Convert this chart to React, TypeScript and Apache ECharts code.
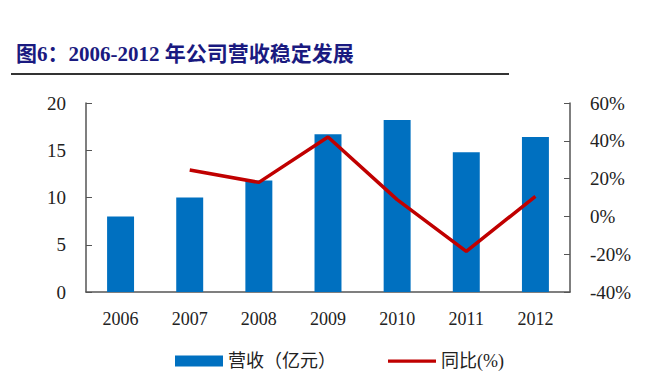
import React, { useEffect, useRef } from "react";
import * as echarts from "echarts";

const categories = ["2006", "2007", "2008", "2009", "2010", "2011", "2012"];
const revenue = [8.0, 10.0, 11.8, 16.7, 18.2, 14.8, 16.4];
const growth: (number | null)[] = [null, 24.6, 18.0, 42.0, 8.9, -18.5, 10.6];
const leftTicks = [0, 5, 10, 15, 20];
const rightTicks = [-40, -20, 0, 20, 40, 60];

const FONT = "'Liberation Serif', 'Times New Roman', 'Noto Sans CJK SC', serif";
const LINE_ICON = "path://M0 0 L0.01 0 L0.01 0.01 Z M0 4 L50 4 L50 7.2 L0 7.2 Z M0 11 L0.01 11 L0.01 10.99 Z";

export default function App() {
  const ref = useRef<HTMLDivElement>(null);
  useEffect(() => {
    if (!ref.current) return;
    const chart = echarts.init(ref.current, undefined, { renderer: "svg" });
    chart.setOption({
      animation: false,
      backgroundColor: "#ffffff",
      title: {
        text: "图6：2006-2012 年公司营收稳定发展",
        left: 11,
        top: 38,
        textStyle: {
          fontFamily: FONT,
          fontSize: 21,
          fontWeight: "bold",
          color: "#1a1a80",
        },
      },
      graphic: [
        {
          type: "line",
          shape: { x1: 11, y1: 74, x2: 509, y2: 74 },
          style: { stroke: "#333333", lineWidth: 2 },
        },
      ],
      legend: {
        left: 170,
        top: 347,
        itemGap: 52,
        itemWidth: 48,
        itemHeight: 11,
        textStyle: { fontFamily: FONT, fontSize: 18, color: "#222222" },
        data: [
          { name: "营收（亿元）", icon: "rect" },
          { name: "同比(%)", icon: LINE_ICON, itemStyle: { color: "#C00000" } },
        ],
      },
      grid: { left: 86, right: 97, top: 103, bottom: 91 },
      xAxis: {
        type: "category",
        data: categories,
        axisLine: { lineStyle: { color: "#555555", width: 1.5 } },
        axisTick: { inside: true, length: 6, lineStyle: { color: "#555555" } },
        axisLabel: { fontFamily: FONT, fontSize: 18, color: "#222222", margin: 18 },
      },
      yAxis: [
        {
          type: "value",
          min: leftTicks[0],
          max: leftTicks[leftTicks.length - 1],
          interval: 5,
          axisLine: { show: true, lineStyle: { color: "#555555", width: 1.5 } },
          axisTick: { show: true, inside: true, length: 6, lineStyle: { color: "#555555" } },
          splitLine: { show: false },
          axisLabel: { fontFamily: FONT, fontSize: 19, color: "#222222", margin: 20 },
        },
        {
          type: "value",
          min: rightTicks[0],
          max: rightTicks[rightTicks.length - 1],
          interval: 20,
          axisLine: { show: true, lineStyle: { color: "#555555", width: 1.5 } },
          axisTick: { show: true, inside: true, length: 6, lineStyle: { color: "#555555" } },
          splitLine: { show: false },
          axisLabel: {
            fontFamily: FONT,
            fontSize: 19,
            color: "#222222",
            margin: 20,
            formatter: (v: number) => `${v}%`,
          },
        },
      ],
      series: [
        {
          name: "营收（亿元）",
          type: "bar",
          data: revenue,
          barWidth: "39%",
          itemStyle: { color: "#0070C0" },
        },
        {
          name: "同比(%)",
          type: "line",
          yAxisIndex: 1,
          data: growth,
          symbol: "none",
          lineStyle: { color: "#C00000", width: 3.5 },
          itemStyle: { color: "#C00000" },
        },
      ],
    });
    return () => chart.dispose();
  }, []);
  return <div ref={ref} style={{ width: 667, height: 383, position: "absolute", left: 0, top: 0 }} />;
}
